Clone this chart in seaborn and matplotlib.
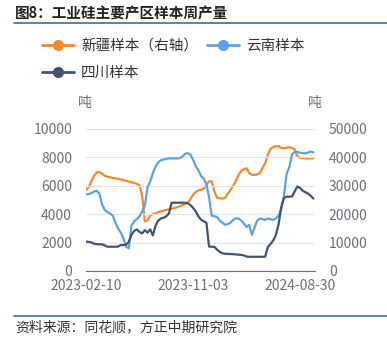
import matplotlib
matplotlib.use("Agg")
import matplotlib.pyplot as plt
from matplotlib.lines import Line2D
import numpy as np
import pandas as pd
import seaborn as sns

# weekly samples, category axis labelled every 40 points
tick_pos = [0, 40, 80]
tick_labels = ["2023-02-10", "2023-11-03", "2024-08-30"]

xinjiang = [28500, 29500, 31500, 33500, 34700, 34800, 34300, 33500, 33200, 33000,
            32800, 32600, 32500, 32200, 32000, 31800, 31500, 31200, 31000, 30700,
            30200, 26500, 17500, 17800, 19500, 20000, 20300, 20700, 21000, 21300,
            21500, 21700, 21900, 22200, 22400, 22800, 23200, 23500, 24000, 25200,
            26800, 27800, 28400, 28600, 29000, 30300, 31600, 31500, 28000, 25800,
            25600, 25500, 25700, 27200, 28500, 30000, 31500, 33800, 35200, 35800,
            36200, 34500, 33900, 33800, 34000, 34500, 36300, 38000, 41000, 43000,
            43700, 43900, 44000, 43300, 43200, 43400, 43600, 43300, 42800, 40500,
            39800, 39700, 39700, 39600, 39700, 39700]

yunnan = [5400, 5420, 5480, 5600, 5650, 5450, 4700, 4300, 4150, 4050,
          3900, 3400, 3000, 2700, 2300, 1700, 1600, 3200, 3500, 3650,
          3850, 4200, 4600, 5900, 6300, 6900, 7350, 7650, 7800, 7850,
          7900, 7930, 7930, 7930, 7930, 7950, 8050, 8250, 8300, 8200,
          7850, 7400, 7100, 6700, 6500, 6100, 5200, 3900, 3850, 3800,
          3550, 3400, 3250, 3300, 3400, 3600, 3700, 3700, 3550, 3350,
          3100, 3250, 2550, 3050, 3550, 3700, 3650, 3600, 3700, 3650,
          3600, 3700, 3900, 4400, 5300, 6850, 7300, 8200, 8400, 8380,
          8330, 8300, 8280, 8350, 8400, 8360]

sichuan = [2070, 2050, 2020, 1920, 1890, 1880, 1880, 1800, 1710, 1710,
           1710, 1710, 1720, 1830, 1830, 1850, 2050, 2550, 2820, 2930,
           2750, 2650, 2880, 2700, 2930, 2500, 3200, 3550, 3700, 3750,
           3850, 4050, 4800, 4810, 4810, 4810, 4810, 4810, 4780, 4650,
           4450, 4200, 3850, 3620, 3500, 3400, 1720, 1710, 1700, 1500,
           1350, 1250, 1220, 1200, 1200, 1180, 1170, 1150, 1130, 1100,
           1020, 1000, 1000, 1000, 1000, 1000, 1000, 1020, 1700, 1900,
           2150, 2550, 3300, 4500, 5150, 5230, 5230, 5250, 5600, 5950,
           5850, 5650, 5550, 5450, 5300, 5100]

c_xj, c_yn, c_sc = "#f28a26", "#5ba3e0", "#44546a"
grey = "#6e7079"

sns.set_style("white")
plt.rcParams["font.family"] = ["Noto Sans CJK SC", "DejaVu Sans"]

df = pd.DataFrame({"idx": np.arange(len(xinjiang)), "xj": xinjiang,
                   "yn": yunnan, "sc": sichuan})

fig = plt.figure(figsize=(3.87, 3.51), dpi=100)
ax = fig.add_axes([86 / 387, 80 / 351, 229 / 387, 142 / 351])
ax2 = ax.twinx()

sns.lineplot(data=df, x="idx", y="yn", ax=ax, color=c_yn, lw=1.6)
sns.lineplot(data=df, x="idx", y="sc", ax=ax, color=c_sc, lw=1.6)
sns.lineplot(data=df, x="idx", y="xj", ax=ax2, color=c_xj, lw=1.6)

ax.set_xlim(0, 85.6)
ax.set_ylim(0, 10000)
ax2.set_ylim(0, 50000)
ax.set_yticks(range(0, 10001, 2000))
ax2.set_yticks(range(0, 50001, 10000))
ax.set_xticks(tick_pos + [85.6])
ax.set_xticklabels(tick_labels + [""])
for a in (ax, ax2):
    a.set_xlabel("")
    a.set_ylabel("")
    for s in a.spines.values():
        s.set_visible(False)
ax.spines["bottom"].set_visible(True)
ax.spines["bottom"].set_color(grey)
ax.grid(axis="y", color="#e0e6f1", lw=0.9)
ax.set_axisbelow(True)
ax.tick_params(axis="x", colors=grey, labelsize=10, length=4, width=1, pad=2)
ax.tick_params(axis="y", colors=grey, labelsize=10, length=0, pad=10)
ax2.tick_params(axis="y", colors=grey, labelsize=10, length=0, pad=10)
ax2.set_zorder(ax.get_zorder() - 1)
ax.patch.set_visible(False)

fig.text(85 / 387, 1 - 103 / 351, "吨", ha="center", va="center", fontsize=10, color=grey)
fig.text(315 / 387, 1 - 103 / 351, "吨", ha="center", va="center", fontsize=10, color=grey)

# legend filled column by column: first column gets 新疆 and 四川
handles = [Line2D([], [], color=c, lw=2, marker="o", markersize=7) for c in (c_xj, c_sc, c_yn)]
labels = ["新疆样本（右轴）", "四川样本", "云南样本"]
fig.legend(handles, labels, ncol=2, loc="upper left", bbox_to_anchor=(36 / 387, 1 - 33 / 351),
           frameon=False, fontsize=10.5, handlelength=2.2, handletextpad=0.5,
           columnspacing=0.6, labelspacing=0.9, labelcolor="#333333", borderaxespad=0)

fig.text(15 / 387, 1 - 13 / 351, "图8：工业硅主要产区样本周产量", ha="left", va="center",
         fontsize=10.5, fontweight="bold", color="#222222")
fig.add_artist(Line2D([14 / 387, 1], [1 - 23 / 351] * 2, color="#3a6ea5", lw=1.2))
fig.add_artist(Line2D([14 / 387, 1], [1 - 316 / 351] * 2, color="#3a6ea5", lw=1.2))
fig.text(15 / 387, 1 - 327 / 351, "资料来源：同花顺，方正中期研究院", ha="left", va="center",
         fontsize=10, style="italic", color="#333333")

fig.savefig("out.png", dpi=100)
